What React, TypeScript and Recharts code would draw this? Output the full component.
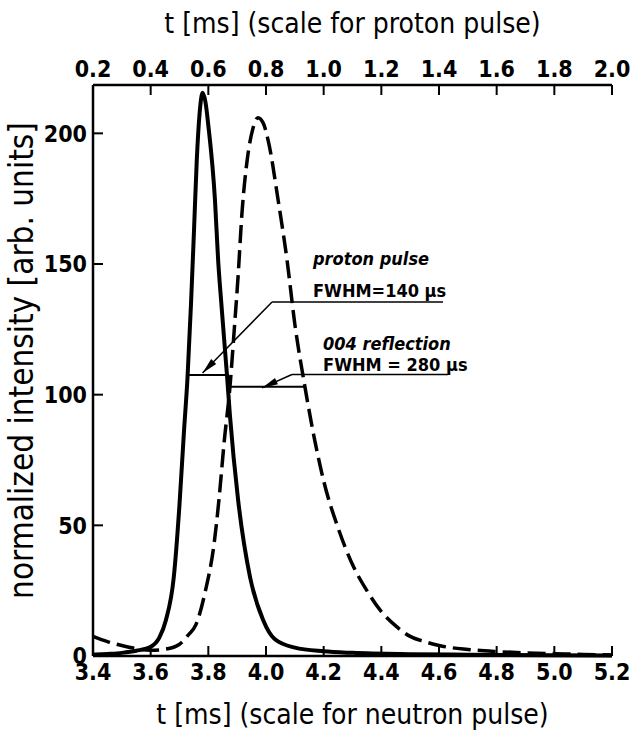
import React from 'react';
import {
  LineChart,
  Line,
  XAxis,
  YAxis,
  ReferenceLine,
  ReferenceDot,
} from 'recharts';

// proton pulse, read against the top axis (t in ms)
const protonT = [0.2, 0.25, 0.3, 0.35, 0.4, 0.43, 0.453, 0.48, 0.5, 0.515, 0.528, 0.54, 0.55, 0.56, 0.57, 0.58, 0.59, 0.6, 0.623, 0.634, 0.645, 0.665, 0.675, 0.703, 0.745, 0.79, 0.83, 0.9, 1.0, 1.1, 1.3, 1.5, 1.8, 2.0];
const protonI = [0.5, 0.8, 1.2, 2, 3.5, 7, 13.8, 30, 58, 85, 107, 135, 162, 190, 208, 215.5, 212, 203, 174.5, 151.5, 135, 107, 92, 60, 30, 13.8, 6.5, 3.2, 1.8, 1.2, 0.7, 0.5, 0.3, 0.2];

// 004 reflection, read against the bottom axis (t in ms)
const neutronT = [3.4, 3.45, 3.5, 3.55, 3.6, 3.65, 3.7, 3.73, 3.757, 3.79, 3.82, 3.837, 3.855, 3.875, 3.89, 3.903, 3.917, 3.935, 3.955, 3.972, 3.99, 4.01, 4.042, 4.073, 4.1, 4.135, 4.17, 4.2, 4.25, 4.3, 4.35, 4.4, 4.45, 4.5, 4.55, 4.6, 4.7, 4.8, 4.9, 5.0, 5.1, 5.2];
const neutronI = [7.5, 5.5, 4, 2.8, 2.2, 2.6, 4.5, 8, 12, 25, 43, 60, 82, 103, 125, 145, 170, 190, 202, 206, 204, 196, 174.5, 151.5, 127, 103, 82, 67, 49, 35, 25, 17, 11.5, 7.5, 5.5, 4, 2.5, 1.7, 1.2, 0.9, 0.6, 0.4];

const topTicks = [0.2, 0.4, 0.6, 0.8, 1.0, 1.2, 1.4, 1.6, 1.8, 2.0];
const bottomTicks = [3.4, 3.6, 3.8, 4.0, 4.2, 4.4, 4.6, 4.8, 5.0, 5.2];
const yTicks = [0, 50, 100, 150, 200];

// annotation lines, in bottom-axis units
const fwhmProton = [3.728, 3.865, 107.5];
const fwhmNeutron = [3.875, 4.135, 103];
const leader1 = [4.021, 135.5, 4.614, 3.78, 108.3];
const leader2 = [4.09, 107.7, 4.631, 3.986, 102.6];

const protonData = protonT.map((t, i) => ({ t, v: protonI[i] }));
const neutronData = neutronT.map((t, i) => ({ t, v: neutronI[i] }));

const FONT = '"DejaVu Sans Condensed", "DejaVu Sans", sans-serif';
const tickStyle = { fontFamily: FONT, fontSize: 23, fontWeight: 'bold', fill: '#000' };
const titleStyle = { fontFamily: FONT, fontSize: 28, fill: '#000' };
const axisLine = { stroke: '#000', strokeWidth: 2.5 };
const tickLine = { stroke: '#000', strokeWidth: 2 };

const ArrowHead = ({ cx, cy, angle }: any) => (
  <polygon
    points="0,0 -16,-3.5 -16,3.5"
    fill="#000"
    transform={`translate(${cx},${cy}) rotate(${angle})`}
  />
);

const Note = ({ cx, cy, text, italic }: any) => (
  <text
    x={cx}
    y={cy}
    fontFamily={FONT}
    fontSize={18}
    fontWeight="bold"
    fontStyle={italic ? 'italic' : 'normal'}
    fill="#000"
  >
    {text}
  </text>
);

export default function App() {
  const fmt = (v: number) => String(v);
  return (
    <div style={{ position: 'absolute', left: 0, top: 0, background: '#fff' }}>
      <LineChart width={631} height={737} margin={{ top: 45, right: 19, bottom: 41, left: 33 }}>
        <XAxis
          xAxisId="top"
          orientation="top"
          type="number"
          dataKey="t"
          domain={[0.2, 2.0]}
          ticks={topTicks}
          tickFormatter={(v: number) => v.toFixed(1)}
          height={40}
          tickSize={-10}
          tickMargin={18}
          tick={tickStyle}
          axisLine={axisLine}
          tickLine={tickLine}
          interval={0}
          label={{ value: 't [ms] (scale for proton pulse)', position: 'top', offset: 12, style: titleStyle }}
        />
        <XAxis
          xAxisId="bottom"
          orientation="bottom"
          type="number"
          dataKey="t"
          domain={[3.4, 5.2]}
          ticks={bottomTicks}
          tickFormatter={(v: number) => v.toFixed(1)}
          height={40}
          tickSize={-10}
          tickMargin={18}
          tick={tickStyle}
          axisLine={axisLine}
          tickLine={tickLine}
          interval={0}
          label={{ value: 't [ms] (scale for neutron pulse)', position: 'bottom', offset: 8, style: titleStyle }}
        />
        <YAxis
          yAxisId="left"
          type="number"
          domain={[0, 218.5]}
          ticks={yTicks}
          tickFormatter={fmt}
          width={60}
          tickSize={-10}
          tickMargin={16}
          tick={tickStyle}
          axisLine={axisLine}
          tickLine={tickLine}
          interval={0}
          label={{ value: 'normalized intensity [arb. units]', angle: -90, position: 'center', dx: -42, dy: -10, style: { ...titleStyle, fontSize: 33 } }}
        />
        <YAxis
          yAxisId="right"
          orientation="right"
          type="number"
          domain={[0, 218.5]}
          ticks={yTicks}
          width={0}
          tickSize={-10}
          tick={false}
          axisLine={axisLine}
          tickLine={tickLine}
          interval={0}
        />

        <Line
          data={protonData}
          dataKey="v"
          xAxisId="top"
          yAxisId="left"
          type="monotone"
          stroke="#000"
          strokeWidth={4}
          dot={false}
          isAnimationActive={false}
        />
        <Line
          data={neutronData}
          dataKey="v"
          xAxisId="bottom"
          yAxisId="right"
          type="monotone"
          stroke="#000"
          strokeWidth={3.5}
          strokeDasharray="18 7"
          dot={false}
          isAnimationActive={false}
        />

        {/* FWHM markers and leaders */}
        <ReferenceLine xAxisId="bottom" yAxisId="right" ifOverflow="visible" stroke="#000" strokeWidth={2}
          segment={[{ x: fwhmProton[0], y: fwhmProton[2] }, { x: fwhmProton[1], y: fwhmProton[2] }]} />
        <ReferenceLine xAxisId="bottom" yAxisId="right" ifOverflow="visible" stroke="#000" strokeWidth={2}
          segment={[{ x: fwhmNeutron[0], y: fwhmNeutron[2] }, { x: fwhmNeutron[1], y: fwhmNeutron[2] }]} />
        <ReferenceLine xAxisId="bottom" yAxisId="right" ifOverflow="visible" stroke="#000" strokeWidth={1.5}
          segment={[{ x: leader1[0], y: leader1[1] }, { x: leader1[2], y: leader1[1] }]} />
        <ReferenceLine xAxisId="bottom" yAxisId="right" ifOverflow="visible" stroke="#000" strokeWidth={1.5}
          segment={[{ x: leader1[0], y: leader1[1] }, { x: leader1[3], y: leader1[4] }]} />
        <ReferenceLine xAxisId="bottom" yAxisId="right" ifOverflow="visible" stroke="#000" strokeWidth={1.5}
          segment={[{ x: leader2[0], y: leader2[1] }, { x: leader2[2], y: leader2[1] }]} />
        <ReferenceLine xAxisId="bottom" yAxisId="right" ifOverflow="visible" stroke="#000" strokeWidth={1.5}
          segment={[{ x: leader2[0], y: leader2[1] }, { x: leader2[3], y: leader2[4] }]} />
        <ReferenceDot xAxisId="bottom" yAxisId="right" x={leader1[3]} y={leader1[4]} r={0} ifOverflow="visible"
          shape={(p: any) => <ArrowHead cx={p.cx} cy={p.cy} angle={134} />} />
        <ReferenceDot xAxisId="bottom" yAxisId="right" x={leader2[3]} y={leader2[4]} r={0} ifOverflow="visible"
          shape={(p: any) => <ArrowHead cx={p.cx} cy={p.cy} angle={155} />} />

        {/* annotation texts */}
        <ReferenceDot xAxisId="bottom" yAxisId="right" x={4.163} y={149.6} r={0} ifOverflow="visible"
          shape={(p: any) => <Note cx={p.cx} cy={p.cy} text="proton pulse" italic />} />
        <ReferenceDot xAxisId="bottom" yAxisId="right" x={4.163} y={137.4} r={0} ifOverflow="visible"
          shape={(p: any) => <Note cx={p.cx} cy={p.cy} text="FWHM=140 µs" />} />
        <ReferenceDot xAxisId="bottom" yAxisId="right" x={4.198} y={117.1} r={0} ifOverflow="visible"
          shape={(p: any) => <Note cx={p.cx} cy={p.cy} text="004 reflection" italic />} />
        <ReferenceDot xAxisId="bottom" yAxisId="right" x={4.198} y={108.9} r={0} ifOverflow="visible"
          shape={(p: any) => <Note cx={p.cx} cy={p.cy} text="FWHM = 280 µs" />} />
      </LineChart>
    </div>
  );
}
